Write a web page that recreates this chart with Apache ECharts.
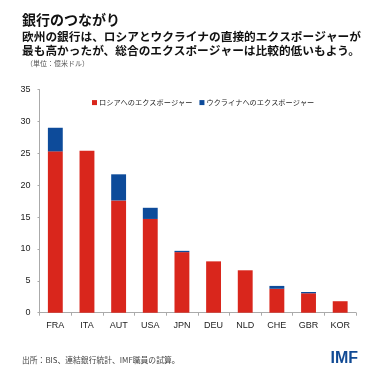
<!DOCTYPE html>
<html><head><meta charset="utf-8">
<script src="https://cdn.jsdelivr.net/npm/echarts@6/dist/echarts.min.js"></script>
<style>html,body{margin:0;padding:0;background:#fff}#c{width:379px;height:379px}</style>
</head><body><div id="c"></div>
<script>
const categories = ['FRA','ITA','AUT','USA','JPN','DEU','NLD','CHE','GBR','KOR'];
const russia = [25.3, 25.4, 17.6, 14.7, 9.5, 8.05, 6.65, 3.75, 3.05, 1.8];
const ukraine = [3.7, 0, 4.1, 1.75, 0.2, 0, 0, 0.45, 0.2, 0];
const seriesNames = ['ロシアへのエクスポージャー','ウクライナへのエクスポージャー'];
const yTicks = {min: 0, max: 35, interval: 5};
const title = '銀行のつながり';
const subtitle = '欧州の銀行は、ロシアとウクライナの直接的エクスポージャーが\n最も高かったが、総合のエクスポージャーは比較的低いもよう。';
const unit = '（単位：億米ドル）';
const source = '出所：BIS、連結銀行統計、IMF職員の試算。';

const F = '"Noto Sans CJK JP", "Liberation Sans", sans-serif';
const chart = echarts.init(document.getElementById('c'), null, {renderer: 'canvas'});
chart.setOption({
  animation: false,
  backgroundColor: '#fff',
  title: [
    {text: title, left: 17, top: 8, textStyle: {fontFamily: F, fontSize: 14, fontWeight: 'bold', color: '#111'}},
    {text: subtitle, left: 17, top: 24, textStyle: {fontFamily: F, fontSize: 11.7, fontWeight: 'bold', color: '#111', lineHeight: 14.5}},
    {text: unit, left: 21, top: 55, textStyle: {fontFamily: F, fontSize: 7, fontWeight: 'normal', color: '#555'}},
    {text: source, left: 17, top: 351, textStyle: {fontFamily: F, fontSize: 7.8, fontWeight: 'normal', color: '#444'}},
    {text: 'IMF', right: 16, top: 346, textStyle: {fontFamily: '"Liberation Sans", sans-serif', fontSize: 16, fontWeight: 'bold', color: '#114a94'}}
  ],
  legend: {
    top: 94, left: 87, itemWidth: 5, itemHeight: 5, itemGap: 7,
    icon: 'rect',
    textStyle: {fontFamily: F, fontSize: 7.2, color: '#222', padding: [0,0,0,-3]},
    data: seriesNames
  },
  grid: {left: 39.5, right: 23, top: 89.5, bottom: 66.3, containLabel: false},
  xAxis: {
    type: 'category', data: categories,
    axisLine: {lineStyle: {color: '#aaa', width: 1}},
    axisTick: {show: true, length: 3, lineStyle: {color: '#aaa'}},
    axisLabel: {fontFamily: '"Liberation Sans", sans-serif', fontSize: 9, color: '#222', margin: 8}
  },
  yAxis: {
    type: 'value', min: yTicks.min, max: yTicks.max, interval: yTicks.interval,
    axisLine: {show: true, lineStyle: {color: '#aaa', width: 1}},
    axisTick: {show: true, length: 2, lineStyle: {color: '#aaa'}},
    splitLine: {show: false},
    axisLabel: {fontFamily: '"Liberation Sans", sans-serif', fontSize: 9, color: '#222', margin: 9}
  },
  series: [
    {name: seriesNames[0], type: 'bar', stack: 'a', data: russia, barWidth: '47%', itemStyle: {color: '#d9261c'}},
    {name: seriesNames[1], type: 'bar', stack: 'a', data: ukraine, barWidth: '47%', itemStyle: {color: '#0d4b9a'}}
  ]
});
</script></body></html>
